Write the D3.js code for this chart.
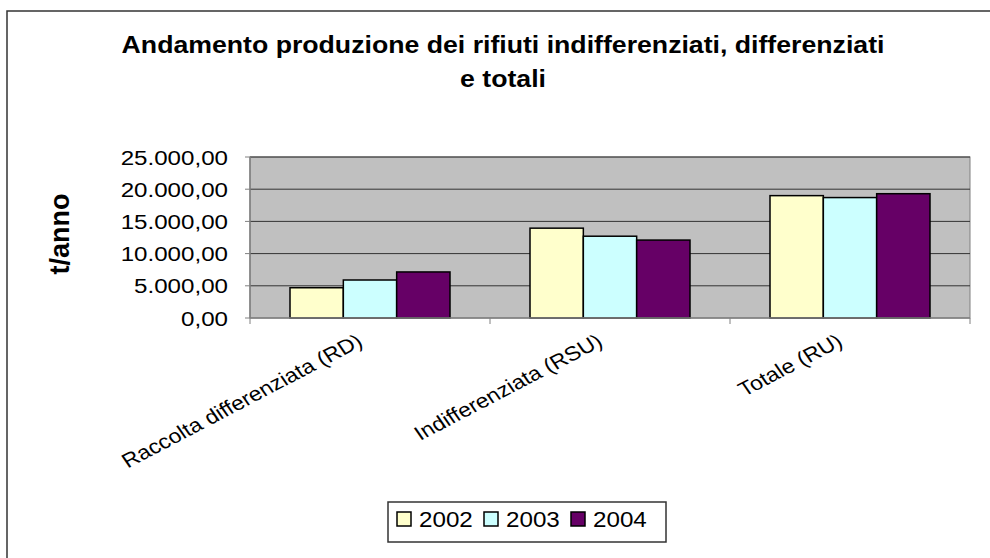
<!DOCTYPE html>
<html lang="it">
<head>
    <meta charset="UTF-8">
    <title>Andamento produzione dei rifiuti</title>
    <script src="https://d3js.org/d3.v7.min.js"></script>
    <style>
        body { margin: 0; background: #fff; }
        text { font-family: Arial, "Liberation Sans", sans-serif; fill: #000; }
    </style>
</head>
<body>
    <div id="chart"></div>

    <script>
        var categories = ["Raccolta differenziata (RD)", "Indifferenziata (RSU)", "Totale (RU)"];
        var years = ["2002", "2003", "2004"];
        var values2002 = [4700, 13950, 19000];
        var values2003 = [5900, 12700, 18700];
        var values2004 = [7150, 12100, 19300];
        var yTicks = [0, 5000, 10000, 15000, 20000, 25000];
        var colors = ["#FFFFCC", "#CCFFFF", "#660066"];

        var series = [values2002, values2003, values2004];
        var width = 990, height = 558;
        var sx = 1.15; // the original chart is stretched sideways

        var plot = { left: 250, right: 970, top: 157, bottom: 318 };

        var it = d3.formatLocale({ decimal: ",", thousands: ".", grouping: [3], currency: ["", " €"] });
        var fmt = it.format(",.2f");

        var xScale = d3.scaleBand()
            .domain(categories)
            .range([plot.left, plot.right]);

        var barW = xScale.bandwidth() / 4.5; // gap width 150%
        var xInner = d3.scaleBand()
            .domain(years)
            .range([barW * 0.75, xScale.bandwidth() - barW * 0.75]);

        var yScale = d3.scaleLinear()
            .domain([0, 25000])
            .range([plot.bottom, plot.top]);

        var svg = d3.select('#chart').append('svg')
            .attr('width', width)
            .attr('height', height);

        // chart frame (runs off the right and bottom of the picture)
        svg.append('rect')
            .attr('x', 7).attr('y', 11)
            .attr('width', 1000).attr('height', 600)
            .attr('fill', '#fff')
            .attr('stroke', '#333')
            .attr('stroke-width', 1.5);

        // title
        var titleLines = ["Andamento produzione dei rifiuti indifferenziati, differenziati", "e totali"];
        svg.selectAll('.title')
            .data(titleLines)
            .enter().append('text')
                .attr('class', 'title')
                .attr('transform', (d, i) => 'translate(503,' + (53 + i * 34) + ') scale(1.16,1)')
                .attr('text-anchor', 'middle')
                .style('font-size', '23px')
                .style('font-weight', 'bold')
                .text(d => d);

        // plot area
        svg.append('rect')
            .attr('x', plot.left).attr('y', plot.top)
            .attr('width', plot.right - plot.left)
            .attr('height', plot.bottom - plot.top)
            .attr('fill', '#C0C0C0')
            .attr('stroke', '#808080')
            .attr('stroke-width', 1);

        // gridlines
        svg.selectAll('.grid')
            .data(yTicks.slice(1))
            .enter().append('line')
                .attr('x1', plot.left).attr('x2', plot.right)
                .attr('y1', d => yScale(d)).attr('y2', d => yScale(d))
                .attr('stroke', '#333')
                .attr('stroke-width', 1);

        // y axis
        svg.append('line')
            .attr('x1', plot.left).attr('x2', plot.left)
            .attr('y1', plot.top).attr('y2', plot.bottom)
            .attr('stroke', '#808080').attr('stroke-width', 1.5);

        svg.selectAll('.ytick')
            .data(yTicks)
            .enter().append('line')
                .attr('x1', plot.left - 5).attr('x2', plot.left)
                .attr('y1', d => yScale(d)).attr('y2', d => yScale(d))
                .attr('stroke', '#808080');

        svg.selectAll('.ylabel')
            .data(yTicks)
            .enter().append('text')
                .attr('transform', d => 'translate(228,' + yScale(d) + ') scale(' + sx + ',1)')
                .attr('text-anchor', 'end')
                .attr('dy', '0.36em')
                .style('font-size', '21px')
                .text(d => fmt(d));

        // y axis title
        svg.append('text')
            .attr('transform', 'translate(69,234) rotate(-90)')
            .attr('text-anchor', 'middle')
            .style('font-size', '27px')
            .style('font-weight', 'bold')
            .text('t/anno');

        // bars
        var groups = svg.selectAll('.cat')
            .data(categories)
            .enter().append('g')
                .attr('transform', d => 'translate(' + xScale(d) + ',0)');

        groups.selectAll('rect')
            .data((d, ci) => years.map((y, si) => ({ year: y, value: series[si][ci], si: si })))
            .enter().append('rect')
                .attr('x', d => xInner(d.year))
                .attr('width', xInner.bandwidth())
                .attr('y', d => yScale(d.value))
                .attr('height', d => yScale(0) - yScale(d.value))
                .style('fill', d => colors[d.si])
                .attr('stroke', '#000')
                .attr('stroke-width', 1.5);

        // x axis
        svg.append('line')
            .attr('x1', plot.left).attr('x2', plot.right)
            .attr('y1', plot.bottom).attr('y2', plot.bottom)
            .attr('stroke', '#808080').attr('stroke-width', 1.5);

        svg.selectAll('.xtick')
            .data(categories.map(c => xScale(c)).concat([plot.right]))
            .enter().append('line')
                .attr('x1', d => d).attr('x2', d => d)
                .attr('y1', plot.bottom).attr('y2', plot.bottom + 6)
                .attr('stroke', '#808080');

        svg.selectAll('.xlabel')
            .data(categories)
            .enter().append('text')
                .attr('transform', d => 'translate(' + (xScale(d) + xScale.bandwidth() / 2 - 6) + ',' + (plot.bottom + 27) + ') scale(' + sx + ',1) rotate(-31)')
                .attr('text-anchor', 'end')
                .style('font-size', '20px')
                .text(d => d);

        // legend
        var legend = svg.append('g').attr('transform', 'translate(388,502)');
        legend.append('rect')
            .attr('width', 278).attr('height', 40)
            .attr('fill', '#fff')
            .attr('stroke', '#333')
            .attr('stroke-width', 1.5);

        var legendX = d3.scaleBand().domain(years).range([9, 270]);
        var items = legend.selectAll('.item')
            .data(years)
            .enter().append('g')
                .attr('transform', d => 'translate(' + legendX(d) + ',0)');
        items.append('rect')
            .attr('y', 10)
            .attr('width', 14).attr('height', 14)
            .style('fill', (d, i) => colors[i])
            .attr('stroke', '#000')
            .attr('stroke-width', 1.5);
        items.append('text')
            .attr('transform', 'translate(22,25) scale(1.1,1)')
            .style('font-size', '22px')
            .text(d => d);
    </script>
</body>
</html>
